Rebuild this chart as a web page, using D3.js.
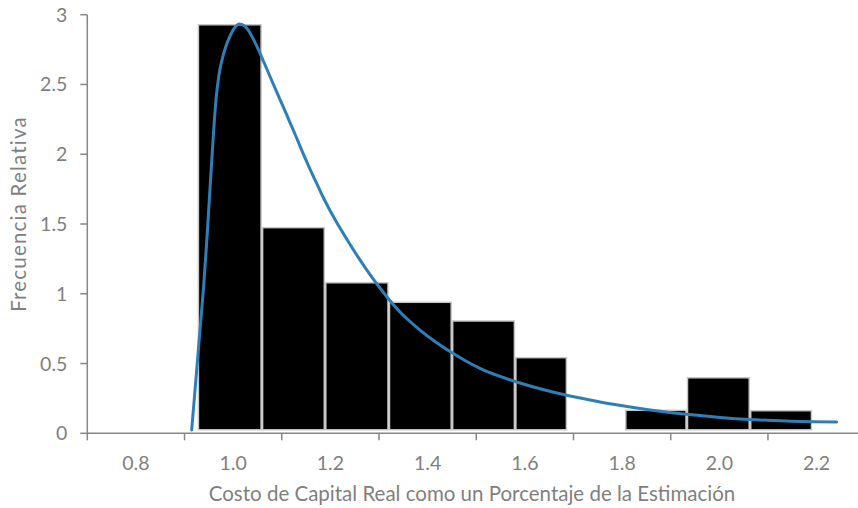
<!DOCTYPE html>
<html>
<head>
<meta charset="utf-8">
<script src="https://cdn.jsdelivr.net/npm/d3@7"></script>
<style>
  html, body { margin: 0; padding: 0; background: #fff; }
  svg { display: block; }
  text { font-family: Lato, "Open Sans", sans-serif; }
</style>
</head>
<body>
<svg id="chart" width="858" height="508"></svg>
<script>
// Histogram bins (left/right edges) and relative frequency of each bin
const binStart = [0.927, 1.059, 1.189, 1.320, 1.450, 1.580, 1.806, 1.933, 2.063];
const binEnd   = [1.059, 1.189, 1.320, 1.450, 1.580, 1.687, 1.933, 2.063, 2.191];
const binFreq  = [2.928, 1.474, 1.079, 0.939, 0.805, 0.542, 0.165, 0.398, 0.162];

// Fitted density curve
const curveX = [0.9147, 0.9236, 0.9318, 0.9390, 0.9452, 0.9503, 0.9550, 0.9596, 0.9647, 0.9705,
                0.9770, 0.9853, 0.9935, 1.0028, 1.0126, 1.0223, 1.0311, 1.0408, 1.0517, 1.0634,
                1.0758, 1.0891, 1.1031, 1.1169, 1.1293, 1.1443, 1.1580, 1.1714, 1.1854, 1.2095,
                1.2335, 1.2568, 1.2856, 1.3164, 1.3432, 1.3843, 1.4151, 1.4460, 1.4768, 1.5077,
                1.5447, 1.5832, 1.6449, 1.6860, 1.7339, 1.7819, 1.8506, 1.9328, 2.0013, 2.0630,
                2.1385, 2.2413];
const curveY = [0.024, 0.396, 0.740, 1.041, 1.350, 1.636, 1.901, 2.152, 2.389, 2.561,
                2.675, 2.776, 2.847, 2.905, 2.933, 2.923, 2.890, 2.830, 2.751, 2.658,
                2.557, 2.450, 2.339, 2.227, 2.127, 2.002, 1.894, 1.794, 1.690, 1.532,
                1.393, 1.264, 1.117, 0.977, 0.869, 0.740, 0.658, 0.586, 0.522, 0.466,
                0.413, 0.368, 0.307, 0.273, 0.239, 0.208, 0.171, 0.136, 0.114, 0.099,
                0.088, 0.081];

// Axis ticks: tick marks sit between the labelled values
const xTickMarks  = [0.7, 0.9, 1.1, 1.3, 1.5, 1.7, 1.9, 2.1, 2.3];
const xTickLabels = [0.8, 1.0, 1.2, 1.4, 1.6, 1.8, 2.0, 2.2];
const yTicks = [0, 0.5, 1, 1.5, 2, 2.5, 3];

const xTitle = "Costo de Capital Real como un Porcentaje de la Estimación";
const yTitle = "Frecuencia Relativa";

const svg = d3.select("#chart");
const axisColor = "#868686";
const labelColor = "#7f7f7f";

const x = d3.scaleLinear().domain([0.7, 2.3]).range([87.3, 865.2]);
const y = d3.scaleLinear().domain([0, 3]).range([433.3, 14.7]);

// Bars
const bars = binStart.map((s, i) => ({ s, e: binEnd[i], f: binFreq[i] }));
const barGap = 3.5; // white gap left between bar bottoms and the axis line
svg.append("g")
  .selectAll("rect")
  .data(bars)
  .join("rect")
  .attr("x", d => x(d.s) + 0.75)
  .attr("y", d => y(d.f))
  .attr("width", d => x(d.e) - x(d.s) - 1.5)
  .attr("height", d => y(0) - barGap - y(d.f))
  .attr("fill", "#000")
  .attr("stroke", "#c8c8c8")
  .attr("stroke-width", 1.5);

// X axis
const xAxis = svg.append("g").attr("transform", `translate(0,${y(0)})`);
xAxis.append("line")
  .attr("x1", x(0.7)).attr("x2", x(2.3))
  .attr("stroke", axisColor).attr("stroke-width", 1.5);
xAxis.selectAll("line.tick")
  .data(xTickMarks)
  .join("line")
  .attr("class", "tick")
  .attr("x1", d => x(d)).attr("x2", d => x(d))
  .attr("y1", 0).attr("y2", 7)
  .attr("stroke", axisColor).attr("stroke-width", 1.5);
xAxis.selectAll("text")
  .data(xTickLabels)
  .join("text")
  .attr("x", d => x(d))
  .attr("y", 37)
  .attr("text-anchor", "middle")
  .attr("fill", labelColor)
  .attr("font-size", 19.5)
  .text(d => d.toFixed(1));

// Y axis
const yAxis = svg.append("g").attr("transform", `translate(${x(0.7)},0)`);
yAxis.append("line")
  .attr("y1", y(0)).attr("y2", y(3))
  .attr("stroke", axisColor).attr("stroke-width", 1.5);
yAxis.selectAll("line.tick")
  .data(yTicks)
  .join("line")
  .attr("class", "tick")
  .attr("x1", -7).attr("x2", 0)
  .attr("y1", d => y(d)).attr("y2", d => y(d))
  .attr("stroke", axisColor).attr("stroke-width", 1.5);
yAxis.selectAll("text")
  .data(yTicks)
  .join("text")
  .attr("x", -20)
  .attr("y", d => y(d))
  .attr("dy", "0.36em")
  .attr("text-anchor", "end")
  .attr("fill", labelColor)
  .attr("font-size", 19.5)
  .text(d => d3.format("")(d));

// Fitted curve
const pts = curveX.map((v, i) => [v, curveY[i]]);
svg.append("path")
  .datum(pts)
  .attr("fill", "none")
  .attr("stroke", "#2f7fb6")
  .attr("stroke-width", 3)
  .attr("stroke-linecap", "round")
  .attr("d", d3.line().x(d => x(d[0])).y(d => y(d[1])).curve(d3.curveMonotoneX));

// Axis titles
svg.append("text")
  .attr("x", 472)
  .attr("y", 501)
  .attr("text-anchor", "middle")
  .attr("fill", labelColor)
  .attr("font-size", 20.5)
  .text(xTitle);

svg.append("text")
  .attr("transform", `translate(26,214) rotate(-90)`)
  .attr("text-anchor", "middle")
  .attr("fill", labelColor)
  .attr("font-size", 20.5)
  .attr("letter-spacing", 1.2)
  .text(yTitle);
</script>
</body>
</html>
